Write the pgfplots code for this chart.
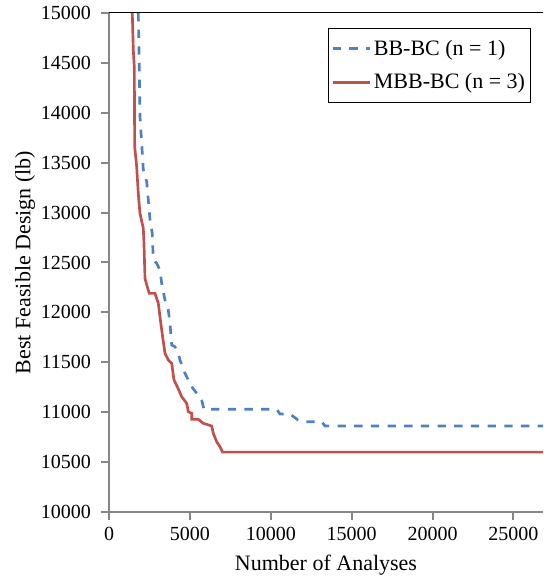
\documentclass[border=0pt]{standalone}
\usepackage{fontspec}
\setmainfont{Liberation Serif}
\usepackage{pgfplots}
\pgfplotsset{compat=1.18}
\definecolor{bbblue}{RGB}{79,129,189}
\definecolor{bbred}{RGB}{192,80,77}
\definecolor{axgray}{RGB}{134,134,134}
\begin{document}
\begin{tikzpicture}
\begin{axis}[
  scale only axis, width=325.5pt, height=374.25pt,
  xmin=0, xmax=26830, ymin=10000, ymax=15000,
  axis x line*=bottom, axis y line*=left,
  axis line style={axgray, line width=1.5pt, -},
  xtick={0,5000,...,25000}, ytick={10000,10500,...,15000},
  scaled ticks=false,
  tick align=outside, major tick length=6pt,
  tick style={axgray, line width=1.5pt},
  /pgf/number format/assume math mode=true,
  /pgf/number format/1000 sep={},
  ticklabel style={font=\fontsize{15}{18}\selectfont},
  yticklabel style={xshift=-4pt},
  xticklabel style={yshift=-1.5pt},
  xlabel={Number of Analyses}, ylabel={Best Feasible Design (lb)},
  label style={font=\fontsize{16.5}{20}\selectfont},
  xlabel style={at={(axis description cs:0.5,-0.1062)}, anchor=center},
  ylabel style={at={(axis description cs:-0.1935,0.5)}, anchor=center},
  legend style={at={(0.972,0.97)}, anchor=north east, draw=black, line width=0.75pt,
    font=\fontsize{16.5}{20}\selectfont, row sep=8.5pt, inner xsep=2pt, inner ysep=6.5pt},
  legend cell align=left,
  legend image code/.code={\draw[#1] (0cm,0cm) -- (0.98cm,0cm);},
  clip=true,
]
\coordinate (ll) at (rel axis cs:0,0);
\coordinate (ur) at (rel axis cs:1,1);
\addplot[bbblue, line width=2pt, dash pattern=on 6.25pt off 6.25pt] coordinates {
(1811,15000)(1873,14460)(1916,13960)(2019,13700)(2120,13430)(2330,13310)(2429,13130)(2534,12930)(2676,12790)(2738,12530)(2947,12490)(3152,12425)(3257,12290)(3461,12124)(3665,12024)(3770,11890)(3875,11673)(4079,11656)(4283,11590)(4388,11523)(4698,11390)(4901,11323)(5111,11256)(5420,11190)(5624,11155)(5729,11122)(5871,11030)(10365,11030)(10569,10982)(11187,10982)(11681,10922)(12000,10905)(13145,10905)(13350,10862)(26830,10862)
};
\addlegendentry{BB-BC (n = 1)}
\addplot[bbred, line width=2pt] coordinates {
(1440,15000)(1502,14630)(1564,14460)(1588,13660)(1712,13460)(1811,13190)(1916,12990)(2120,12843)(2160,12700)(2225,12342)(2330,12275)(2491,12191)(2843,12191)(3047,12091)(3257,11824)(3461,11590)(3665,11523)(3875,11490)(4017,11323)(4221,11256)(4493,11155)(4802,11089)(4901,11005)(5111,10989)(5111,10929)(5519,10929)(5828,10889)(6347,10862)(6446,10789)(6656,10704)(6860,10654)(7027,10600)(26830,10600)
};
\addlegendentry{MBB-BC (n = 3)}
\draw[black, line width=0.75pt] (rel axis cs:0,1) -- (rel axis cs:1,1);
\end{axis}
\pgfresetboundingbox
\path[use as bounding box] ([xshift=-81.75pt,yshift=-54pt]ll) rectangle ([yshift=9.75pt]ur);
\end{tikzpicture}
\end{document}
